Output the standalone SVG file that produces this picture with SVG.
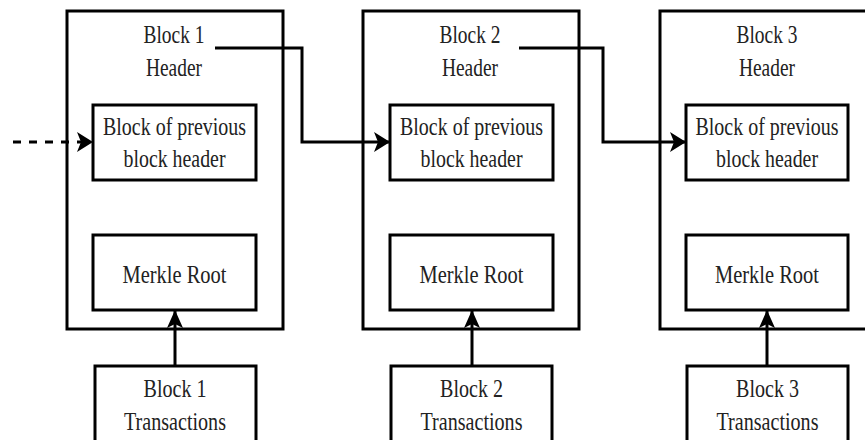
<svg xmlns="http://www.w3.org/2000/svg" width="865" height="440" viewBox="0 0 865 440">
  <style>
    .box { fill: #ffffff; stroke: #000000; stroke-width: 3; }
    .outer { fill: none; stroke: #000000; stroke-width: 3; }
    .lbl { font-family: "Liberation Serif", "Times New Roman", serif; font-size: 26px; fill: #222222; text-anchor: middle; }
    .wire { fill: none; stroke: #000000; stroke-width: 3; }
    .dash { stroke-dasharray: 8 8; }
  </style>
  <defs>
    <!-- notched arrowhead for the header links -->
    <marker id="head" markerUnits="userSpaceOnUse" markerWidth="18" markerHeight="22" refX="16" refY="10" orient="auto">
      <path d="M0,0 L16,10 L0,20 L4,10 Z" fill="#000000"/>
    </marker>
    <!-- narrower arrowhead for transactions into the Merkle root -->
    <marker id="headSlim" markerUnits="userSpaceOnUse" markerWidth="20" markerHeight="18" refX="18" refY="8" orient="auto">
      <path d="M0,0 L18,8 L0,16 L4,8 Z" fill="#000000"/>
    </marker>
  </defs>
  <rect width="865" height="440" fill="#ffffff"/>

  <!-- Block 1 -->
  <g id="block1">
    <rect class="outer" x="67" y="11" width="216" height="318"/>
    <text class="lbl" x="174" y="43" textLength="61" lengthAdjust="spacingAndGlyphs">Block 1</text>
    <text class="lbl" x="174" y="76" textLength="56" lengthAdjust="spacingAndGlyphs">Header</text>
  </g>
  <g id="block1-prev">
    <rect class="box" x="93" y="105" width="163" height="75"/>
    <text class="lbl" x="174.5" y="135" textLength="143" lengthAdjust="spacingAndGlyphs">Block of previous</text>
    <text class="lbl" x="174.5" y="167" textLength="102" lengthAdjust="spacingAndGlyphs">block header</text>
  </g>
  <g id="block1-merkle">
    <rect class="box" x="93" y="235" width="163" height="75"/>
    <text class="lbl" x="174.5" y="283" textLength="104" lengthAdjust="spacingAndGlyphs">Merkle Root</text>
  </g>
  <g id="block1-tx">
    <rect class="box" x="95" y="366" width="161" height="90"/>
    <text class="lbl" x="175" y="397" textLength="63" lengthAdjust="spacingAndGlyphs">Block 1</text>
    <text class="lbl" x="175" y="430" textLength="102" lengthAdjust="spacingAndGlyphs">Transactions</text>
  </g>

  <!-- Block 2 -->
  <g id="block2">
    <rect class="outer" x="363" y="11" width="216" height="318"/>
    <text class="lbl" x="470" y="43" textLength="61" lengthAdjust="spacingAndGlyphs">Block 2</text>
    <text class="lbl" x="470" y="76" textLength="56" lengthAdjust="spacingAndGlyphs">Header</text>
  </g>
  <g id="block2-prev">
    <rect class="box" x="390" y="105" width="163" height="75"/>
    <text class="lbl" x="471.5" y="135" textLength="143" lengthAdjust="spacingAndGlyphs">Block of previous</text>
    <text class="lbl" x="471.5" y="167" textLength="102" lengthAdjust="spacingAndGlyphs">block header</text>
  </g>
  <g id="block2-merkle">
    <rect class="box" x="390" y="235" width="163" height="75"/>
    <text class="lbl" x="471.5" y="283" textLength="104" lengthAdjust="spacingAndGlyphs">Merkle Root</text>
  </g>
  <g id="block2-tx">
    <rect class="box" x="391" y="366" width="161" height="90"/>
    <text class="lbl" x="471.5" y="397" textLength="63" lengthAdjust="spacingAndGlyphs">Block 2</text>
    <text class="lbl" x="471.5" y="430" textLength="102" lengthAdjust="spacingAndGlyphs">Transactions</text>
  </g>

  <!-- Block 3 (runs past the right edge) -->
  <g id="block3">
    <rect class="outer" x="660" y="11" width="216" height="318"/>
    <text class="lbl" x="767" y="43" textLength="61" lengthAdjust="spacingAndGlyphs">Block 3</text>
    <text class="lbl" x="767" y="76" textLength="56" lengthAdjust="spacingAndGlyphs">Header</text>
  </g>
  <g id="block3-prev">
    <rect class="box" x="686" y="105" width="162" height="75"/>
    <text class="lbl" x="767" y="135" textLength="143" lengthAdjust="spacingAndGlyphs">Block of previous</text>
    <text class="lbl" x="767" y="167" textLength="102" lengthAdjust="spacingAndGlyphs">block header</text>
  </g>
  <g id="block3-merkle">
    <rect class="box" x="686" y="235" width="162" height="75"/>
    <text class="lbl" x="767" y="283" textLength="104" lengthAdjust="spacingAndGlyphs">Merkle Root</text>
  </g>
  <g id="block3-tx">
    <rect class="box" x="687" y="366" width="161" height="90"/>
    <text class="lbl" x="767.5" y="397" textLength="63" lengthAdjust="spacingAndGlyphs">Block 3</text>
    <text class="lbl" x="767.5" y="430" textLength="102" lengthAdjust="spacingAndGlyphs">Transactions</text>
  </g>

  <!-- Connectors -->
  <g id="connectors">
    <path class="wire dash" d="M13,142 L93,142" marker-end="url(#head)"/>
    <path class="wire" d="M215,48 L302,48 L302,142 L390,142" marker-end="url(#head)"/>
    <path class="wire" d="M519,48 L603,48 L603,142 L686,142" marker-end="url(#head)"/>
    <path class="wire" d="M175,366 L175,310" marker-end="url(#headSlim)"/>
    <path class="wire" d="M472,366 L472,310" marker-end="url(#headSlim)"/>
    <path class="wire" d="M767,366 L767,310" marker-end="url(#headSlim)"/>
  </g>
</svg>
